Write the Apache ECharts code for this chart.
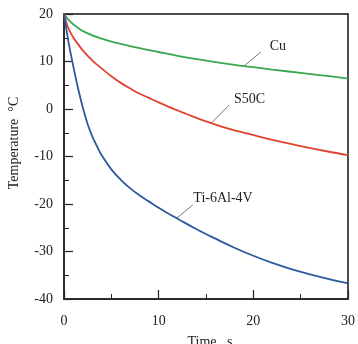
<!DOCTYPE html>
<html><head><meta charset="utf-8">
<script src="https://cdn.jsdelivr.net/npm/echarts@6/dist/echarts.min.js"></script>
<style>html,body{margin:0;padding:0;background:#fff}#c{width:358px;height:344px}</style>
</head><body><div id="c"></div>
<script>
var cuT   = [0,0.25,0.5,1,1.6,2,3,4,5,6,8,10,12,15,18,20,22,25,28,30];
var cuV   = [20,19.3,18.7,17.8,16.9,16.4,15.5,14.8,14.2,13.7,12.8,12.0,11.2,10.2,9.3,8.8,8.3,7.6,6.9,6.4];
var s50T  = [0,0.25,0.5,1,1.5,2,3,4,5,6,7,8,9,10,11,12,13,15,17,20,22,25,28,30];
var s50V  = [20,18.2,16.8,15,13.6,12.3,10.2,8.5,6.9,5.5,4.3,3.2,2.3,1.4,0.5,-0.3,-1.1,-2.6,-3.9,-5.5,-6.5,-7.8,-9.0,-9.7];
var tiT   = [0,0.25,0.5,1,1.5,2,2.5,3,3.5,4,5,6,7,8,9,10,11,12,14,16,18,20,22,24,26,28,30];
var tiV   = [20,16.8,13.8,8.8,4.2,0.2,-3.2,-5.8,-7.9,-9.8,-12.7,-14.9,-16.7,-18.2,-19.5,-20.8,-22,-23.1,-25.3,-27.3,-29.2,-30.9,-32.4,-33.7,-34.8,-35.8,-36.7];
var seriesNames = ['Cu','S50C','Ti-6Al-4V'];
var xTicks = [0,10,20,30];
var yTicks = [-40,-30,-20,-10,0,10,20];
// annotation anchors in data units: [lineStartT, lineStartV, lineEndT, lineEndV, textT, textV]
var annCu  = [19.0, 9.05, 20.8, 12.0, 22.6, 13.1];
var annS50 = [15.6, -2.9, 17.45, 0.85, 19.6, 2.0];
var annTi  = [11.9, -23.0, 13.6, -20.2, 16.8, -18.9];

function pairs(t, v){ return t.map(function(x,i){ return [x, v[i]]; }); }
var font = 'Liberation Serif, Times New Roman, serif';
var chart = echarts.init(document.getElementById('c'));
var axisCommon = {
  axisLine:{show:true, onZero:false, lineStyle:{color:'#2a2222', width:1.5}},
  axisTick:{show:true, inside:true, length:9, lineStyle:{color:'#2a2222', width:1.2}},
  minorTick:{show:true, splitNumber:2, length:5, lineStyle:{color:'#2a2222', width:1}},
  splitLine:{show:false},
  axisLabel:{fontFamily:font, fontSize:14, color:'#222', showMinLabel:true, showMaxLabel:true}
};
chart.setOption({
  animation:false,
  grid:{left:64, right:7, top:14, bottom:45, show:true, borderColor:'#111', borderWidth:1.5, backgroundColor:'transparent'},
  xAxis:Object.assign({type:'value', min:xTicks[0], max:xTicks[xTicks.length-1], interval:10}, axisCommon,
    {axisLabel:Object.assign({}, axisCommon.axisLabel, {margin:15})}),
  yAxis:Object.assign({type:'value', min:yTicks[0], max:yTicks[yTicks.length-1], interval:10}, axisCommon,
    {axisLabel:Object.assign({}, axisCommon.axisLabel, {margin:11})}),
  series:[
    {name:seriesNames[0], type:'line', smooth:0.4, symbol:'none', data:pairs(cuT,cuV), lineStyle:{color:'#3aa850', width:1.8}},
    {name:seriesNames[1], type:'line', smooth:0.4, symbol:'none', data:pairs(s50T,s50V), lineStyle:{color:'#e0442e', width:1.8}},
    {name:seriesNames[2], type:'line', smooth:0.4, symbol:'none', data:pairs(tiT,tiV), lineStyle:{color:'#2c5a9c', width:1.8}}
  ]
});
function px(t,v){ return chart.convertToPixel({gridIndex:0}, [t,v]); }
var g = [];
[[annCu,seriesNames[0]],[annS50,seriesNames[1]],[annTi,seriesNames[2]]].forEach(function(a){
  var d=a[0], p1=px(d[0],d[1]), p2=px(d[2],d[3]), pt=px(d[4],d[5]);
  g.push({type:'line', shape:{x1:p1[0],y1:p1[1],x2:p2[0],y2:p2[1]}, style:{stroke:'#555', lineWidth:0.8}});
  g.push({type:'text', x:pt[0], y:pt[1], style:{text:a[1], font:'14px '+font, fill:'#222', align:'center', verticalAlign:'middle'}});
});
g.push({type:'text', x:14, y:143, rotation:Math.PI/2, style:{text:'Temperature  \u00B0C', font:'14px '+font, fill:'#222', align:'center', verticalAlign:'middle'}});
g.push({type:'text', x:210, y:342, style:{text:'Time   s', font:'14px '+font, fill:'#222', align:'center', verticalAlign:'middle'}});
chart.setOption({graphic:g});
</script></body></html>
